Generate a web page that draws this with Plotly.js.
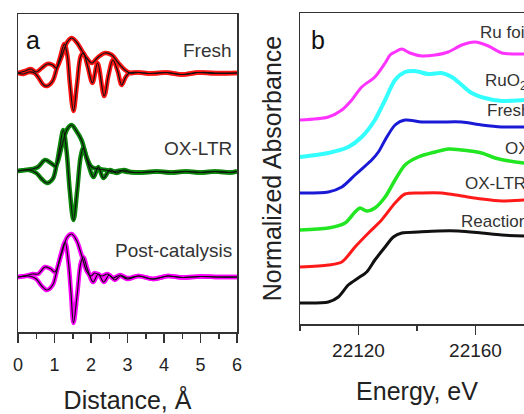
<!DOCTYPE html>
<html>
<head>
<meta charset="utf-8">
<script src="https://cdn.plot.ly/plotly-3.0.1.min.js"></script>
<style>
html, body { margin: 0; padding: 0; overflow: hidden; background: #fff; }
#chart { width: 600px; height: 414px; }
</style>
</head>
<body>
<div id="chart"></div>
<script>
// ---------- Panel a: FT-EXAFS (distance in Å, amplitude relative to each baseline) ----------
const freshMagR = [0,0.2,0.35,0.5,0.65,0.8,0.95,1.05,1.2,1.35,1.47,1.6,1.74,1.88,2.02,2.2,2.38,2.57,2.75,2.93,3.07,3.3,3.6,4.0,4.5,5.0,5.5,6.0];
const freshMag  = [0,0.02,0.04,0.01,0.05,0.09,0.08,0.05,0.17,0.31,0.35,0.31,0.23,0.15,0.10,0.16,0.20,0.18,0.10,0.03,0,0.005,-0.005,0.005,-0.015,0.005,0,0];
const freshImR  = [0,0.15,0.3,0.45,0.55,0.7,0.8,0.95,1.05,1.15,1.27,1.35,1.42,1.52,1.62,1.72,1.79,1.9,2.04,2.18,2.36,2.48,2.6,2.73,2.84,2.95,3.05,3.3,3.7,4.1,4.5,4.9,5.4,6.0];
const freshIm   = [0,-0.01,0.01,0,-0.04,-0.12,-0.13,-0.08,0.03,0.15,0.29,0.18,-0.10,-0.38,-0.10,0.17,0.20,0.08,-0.10,0.10,-0.23,-0.02,0.13,0.02,-0.12,-0.04,0,0.005,-0.005,0.005,-0.015,0.005,-0.005,0];

const oxltrMagR = [0,0.2,0.4,0.55,0.74,0.9,1.03,1.2,1.35,1.47,1.6,1.74,1.88,2.02,2.2,2.4,2.6,2.8,3.0,3.4,3.8,4.2,4.6,5.0,5.4,5.8,6.0];
const oxltrMag  = [0,0.01,0.02,0.04,0.11,0.08,0.05,0.25,0.42,0.46,0.40,0.31,0.14,0.04,0.02,0.01,-0.01,0.005,-0.01,-0.015,-0.005,-0.015,-0.005,-0.015,-0.005,-0.015,-0.005];
const oxltrImR  = [0,0.3,0.5,0.65,0.79,0.95,1.05,1.15,1.24,1.33,1.42,1.52,1.62,1.72,1.79,1.9,2.07,2.2,2.34,2.52,2.7,2.9,3.1,3.4,3.8,4.2,4.6,5.0,5.4,5.8,6.0];
const oxltrIm   = [0,0.01,-0.02,-0.08,-0.12,-0.08,0.05,0.25,0.41,0.20,-0.20,-0.49,-0.20,0.15,0.23,0.10,-0.06,0.04,-0.07,0.01,-0.02,0.01,-0.01,-0.015,-0.005,-0.015,-0.005,-0.015,-0.005,-0.015,-0.005];

const postMagR  = [0,0.2,0.4,0.55,0.74,0.9,1.01,1.2,1.35,1.47,1.6,1.74,1.88,2.0,2.1,2.3,2.45,2.6,2.8,3.0,3.3,3.7,4.1,4.5,5.0,5.5,6.0];
const postMag   = [0,0.01,0.03,0.03,0.10,0.08,0.05,0.24,0.40,0.43,0.37,0.22,0.06,0.01,0.04,0.01,0.03,-0.01,0.02,-0.01,0.01,-0.02,0.01,-0.005,0.005,0,0];
const postImR   = [0,0.3,0.5,0.65,0.79,0.95,1.05,1.17,1.29,1.38,1.45,1.52,1.62,1.72,1.79,1.9,2.06,2.2,2.35,2.5,2.65,2.8,3.0,3.3,3.7,4.1,4.5,5.0,5.5,6.0];
const postIm    = [0,0.01,-0.02,-0.09,-0.13,-0.08,0.04,0.22,0.35,0.15,-0.15,-0.46,-0.18,0.14,0.20,0.08,-0.05,0.03,-0.05,0.02,-0.03,0.01,-0.02,0.01,-0.02,0.01,-0.005,0.005,0,0];

const samplesA = ["Fresh", "OX-LTR", "Post-catalysis"];
const offsetsA = [2.59, 1.61, 0.55];

// ---------- Panel b: XANES (energy in eV, normalized absorbance incl. stacking) ----------
const ruFoilE = [22100,22109.7,22114.3,22117.7,22121.1,22125.6,22129.1,22130.8,22132.5,22134.8,22137.6,22141.6,22146.2,22150.7,22155.3,22159.8,22164.4,22169.0,22173.5,22176.6,22185];
const ruFoilA = [2.04,2.07,2.14,2.24,2.37,2.47,2.61,2.69,2.72,2.75,2.71,2.68,2.69,2.72,2.79,2.82,2.78,2.71,2.70,2.70,2.69];
const ruo2E   = [22100,22109.7,22116.5,22121.1,22125.6,22129.1,22132.5,22135.9,22139.3,22143.9,22148.4,22151.9,22155.3,22158.7,22163.2,22169.0,22176.6,22185];
const ruo2A   = [1.67,1.71,1.77,1.87,2.04,2.24,2.44,2.52,2.53,2.50,2.51,2.47,2.39,2.31,2.26,2.23,2.24,2.25];
const freshE  = [22100,22109.7,22114.3,22118.8,22123.4,22124.5,22126.8,22129.1,22132.5,22135.9,22141.6,22148.4,22155.3,22162.1,22169.0,22176.6,22185];
const freshA  = [1.31,1.32,1.37,1.49,1.61,1.64,1.72,1.84,1.99,2.04,2.02,2.02,2.02,1.99,1.97,1.97,1.97];
const oxE     = [22100,22109.7,22115.4,22118.8,22120.5,22122.8,22125.6,22129.1,22132.5,22135.9,22140.4,22146.2,22150.7,22155.3,22162.1,22166.7,22176.6,22185];
const oxA     = [0.94,0.96,1.01,1.12,1.16,1.13,1.16,1.27,1.44,1.59,1.67,1.72,1.75,1.74,1.71,1.66,1.61,1.60];
const oxltrE  = [22100,22109.7,22114.3,22118.8,22123.4,22127.9,22132.5,22135.9,22141.6,22148.4,22155.3,22162.1,22169.0,22176.6,22185];
const oxltrA  = [0.57,0.59,0.62,0.77,0.91,1.04,1.21,1.30,1.31,1.31,1.28,1.25,1.23,1.24,1.24];
const reactE  = [22100,22109.7,22113.1,22116.5,22119.9,22122.8,22125.6,22129.1,22131.9,22134.8,22140.4,22147.3,22154.1,22162.1,22169.0,22176.6,22185];
const reactA  = [0.21,0.22,0.27,0.39,0.46,0.52,0.64,0.77,0.87,0.91,0.92,0.93,0.93,0.91,0.89,0.88,0.88];

const labelsB = ["Ru foil", "RuO<sub>2</sub>", "Fresh", "OX", "OX-LTR", "Reaction"];

// ---------- build ----------
const colA = ["#ff1414", "#0b860b", "#ff00ff"];
const dataA = [[freshMagR, freshMag, freshImR, freshIm],
               [oxltrMagR, oxltrMag, oxltrImR, oxltrIm],
               [postMagR, postMag, postImR, postIm]];
const traces = [];
dataA.forEach((d, i) => {
  const off = offsetsA[i];
  const parts = [[d[0], d[1]], [d[2], d[3]]];
  parts.forEach(p => {
    traces.push({x: p[0], y: p[1].map(v => v + off), xaxis: 'x', yaxis: 'y', mode: 'lines',
      line: {color: colA[i], width: 4.5, shape: 'spline', smoothing: 1}, hoverinfo: 'skip'});
  });
  parts.forEach(p => {
    traces.push({x: p[0], y: p[1].map(v => v + off), xaxis: 'x', yaxis: 'y', mode: 'lines',
      line: {color: '#111', width: 1.2, shape: 'spline', smoothing: 1}, hoverinfo: 'skip'});
  });
});

const seriesB = [[ruFoilE, ruFoilA, "#ff33ff", 3], [ruo2E, ruo2A, "#33ffff", 4],
                 [freshE, freshA, "#1a1ad6", 3], [oxE, oxA, "#22e622", 3.5],
                 [oxltrE, oxltrA, "#ff1a1a", 3], [reactE, reactA, "#111111", 3]];
seriesB.forEach(s => {
  traces.push({x: s[0], y: s[1], xaxis: 'x2', yaxis: 'y2', mode: 'lines',
    line: {color: s[2], width: s[3], shape: 'spline', smoothing: 0.8}, hoverinfo: 'skip'});
});

const W = 600, H = 414;
const txt = '#333';
const ann = [];
ann.push({xref: 'paper', yref: 'paper', x: 24 / W, y: 1 - 40 / H, xanchor: 'left', yanchor: 'middle',
  text: 'a', showarrow: false, font: {size: 25, color: '#111'}});
ann.push({xref: 'paper', yref: 'paper', x: 309 / W, y: 1 - 40 / H, xanchor: 'left', yanchor: 'middle',
  text: 'b', showarrow: false, font: {size: 25, color: '#111'}});
const labAy = [2.82, 1.84, 0.82];
samplesA.forEach((s, i) => ann.push({xref: 'x', yref: 'y', x: 5.92, y: labAy[i], xanchor: 'right', yanchor: 'middle',
  text: s, showarrow: false, font: {size: 19, color: txt}}));
const labBx = [22160.9, 22162.6, 22163.2, 22169.4, 22155.7, 22154.4];
const labBy = [2.92, 2.42, 2.14, 1.76, 1.41, 1.03];
labelsB.forEach((s, i) => ann.push({xref: 'x2', yref: 'y2', x: labBx[i], y: labBy[i], xanchor: 'left', yanchor: 'middle',
  text: s, showarrow: false, font: {size: 17, color: txt}}));

const axLine = {showline: true, linecolor: '#333', linewidth: 1.5, mirror: true, showgrid: false, zeroline: false};

const layout = {
  width: W, height: H,
  margin: {l: 0, r: 0, t: 0, b: 0},
  paper_bgcolor: '#fff', plot_bgcolor: '#fff',
  showlegend: false,
  separators: '.',
  font: {family: 'Liberation Sans, Arial, sans-serif', color: '#222'},
  xaxis: Object.assign({}, axLine, {
    domain: [18 / W, 237 / W], range: [0, 6], anchor: 'y',
    ticks: 'outside', tick0: 0, dtick: 1, ticklen: 9, tickwidth: 1.5, tickcolor: '#333',
    minor: {dtick: 0.5, ticks: 'outside', ticklen: 5, tickwidth: 1.5, tickcolor: '#333'},
    tickfont: {size: 18, color: '#222'}, ticklabelstandoff: 7,
    title: {text: 'Distance, Å', font: {size: 25, color: '#222'}, standoff: 23}
  }),
  yaxis: Object.assign({}, axLine, {
    domain: [82 / H, 400 / H], range: [0, 3.18], anchor: 'x',
    ticks: '', showticklabels: false
  }),
  xaxis2: Object.assign({}, axLine, {
    domain: [300 / W, 534 / W], range: [22100, 22180], anchor: 'y2',
    ticks: 'outside', tick0: 22120, dtick: 40, ticklen: 9, tickwidth: 1.5, tickcolor: '#333',
    minor: {dtick: 20, ticks: 'outside', ticklen: 5, tickwidth: 1.5, tickcolor: '#333'},
    exponentformat: 'none', separatethousands: false,
    tickfont: {size: 19, color: '#222'},
    title: {text: 'Energy, eV', font: {size: 25, color: '#222'}, standoff: 22}
  }),
  yaxis2: Object.assign({}, axLine, {
    domain: [90 / H, 401 / H], range: [0, 3.11], anchor: 'x2',
    ticks: '', showticklabels: false,
    title: {text: 'Normalized Absorbance', font: {size: 25, color: '#222'}, standoff: 10}
  }),
  annotations: ann
};

Plotly.newPlot('chart', traces, layout, {displayModeBar: false, staticPlot: true});
</script>
</body>
</html>
